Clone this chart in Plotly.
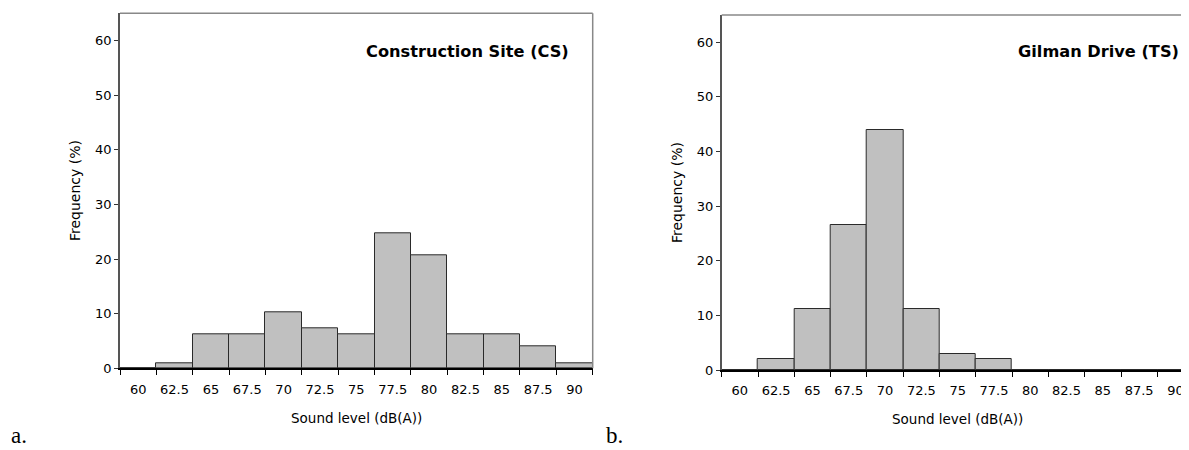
import plotly.graph_objects as go

categories = ["60", "62.5", "65", "67.5", "70", "72.5", "75", "77.5", "80", "82.5", "85", "87.5", "90"]
cs_values = [0, 1.0, 6.2, 6.2, 10.3, 7.3, 6.2, 24.7, 20.6, 6.2, 6.2, 4.1, 1.0]
ts_values = [0, 2.0, 11.2, 26.5, 43.9, 11.2, 3.0, 2.0, 0, 0, 0, 0, 0]
panel_titles = ["Construction Site (CS)", "Gilman Drive (TS)"]
x_title = "Sound level (dB(A))"
y_title = "Frequency (%)"
panel_letters = ["a.", "b."]

# page is 1189x450 but the HTML body has an 8px margin
OFF = 8
W, H = 1189 - OFF, 450 - OFF
FONT = "DejaVu Sans"

def px(x):
    return (x - OFF) / W

def py(y):
    return (H - (y - OFF)) / H

fig = go.Figure()
bar_style = dict(marker=dict(color="#c0c0c0", line=dict(color="#2a2a2a", width=1)),
                 width=1.0, showlegend=False, hoverinfo="skip")
fig.add_trace(go.Bar(x=categories, y=cs_values, xaxis="x", yaxis="y", **bar_style))
fig.add_trace(go.Bar(x=categories, y=ts_values, xaxis="x2", yaxis="y2", **bar_style))

# pixel geometry in page coordinates
L1, R1 = 120, 592.7
L2 = 721.7
cat_w2 = 36.3
R2 = 1189
top1, bot1 = 13.3, 368.3
top2, bot2 = 15.0, 370.0

xaxis_common = dict(type="category", showline=True, linecolor="black", linewidth=1.5,
                    ticks="outside", tickson="boundaries", ticklen=5, tickcolor="black",
                    tickwidth=1, showgrid=False, zeroline=False, tickangle=0,
                    automargin=False, ticklabelstandoff=8,
                    tickfont=dict(family=FONT, size=13, color="black"), fixedrange=True)
yaxis_common = dict(range=[0, 65], dtick=10, tick0=0, showline=True, linecolor="#555",
                    linewidth=1.5, ticks="outside", ticklen=4, tickcolor="#333",
                    showgrid=False, zeroline=False, automargin=False,
                    tickfont=dict(family=FONT, size=13, color="black"))

right_range = -0.5 + (R2 - L2) / cat_w2

fig.update_layout(
    width=W, height=H, margin=dict(l=0, r=0, t=0, b=0),
    paper_bgcolor="white", plot_bgcolor="white", bargap=0,
    xaxis=dict(domain=[px(L1), px(R1)], anchor="y", range=[-0.5, 12.5], **xaxis_common),
    yaxis=dict(domain=[py(bot1), py(top1)], anchor="x", **yaxis_common),
    xaxis2=dict(domain=[px(L2), 1.0], anchor="y2", range=[-0.5, right_range], **xaxis_common),
    yaxis2=dict(domain=[py(bot2), py(top2)], anchor="x2", **yaxis_common),
)

# borders (top and right)
shapes = [
    dict(type="line", xref="x domain", yref="y domain", x0=0, x1=1, y0=1, y1=1,
         line=dict(color="#888", width=1.5)),
    dict(type="line", xref="x domain", yref="y domain", x0=1, x1=1, y0=0, y1=1,
         line=dict(color="#888", width=1.5)),
    dict(type="line", xref="x2 domain", yref="y2 domain", x0=0, x1=1, y0=1, y1=1,
         line=dict(color="#888", width=1.5)),
]
fig.update_layout(shapes=shapes)

ann = []
# panel titles
for xr, yc, t in [(571, 52, panel_titles[0]), (1181, 52, panel_titles[1])]:
    ann.append(dict(text="<b>" + t + "</b>", xref="paper", yref="paper", x=px(xr), y=py(yc),
                    xanchor="right", yanchor="middle", showarrow=False,
                    font=dict(family=FONT, size=16.2, color="black")))
# axis titles
for cx, ycen in [((L1 + R1) / 2, 418), ((L2 + L2 + 13 * cat_w2) / 2, 419)]:
    ann.append(dict(text=x_title, xref="paper", yref="paper", x=px(cx), y=py(ycen),
                    xanchor="center", yanchor="middle", showarrow=False,
                    font=dict(family=FONT, size=13.5, color="black")))
for cx, ycen in [(75, 191), (677, 193)]:
    ann.append(dict(text=y_title, xref="paper", yref="paper", x=px(cx), y=py(ycen),
                    xanchor="center", yanchor="middle", showarrow=False, textangle=-90,
                    font=dict(family=FONT, size=14, color="black")))
# panel letters
for cx, lab in [(9, panel_letters[0]), (604, panel_letters[1])]:
    ann.append(dict(text=lab, xref="paper", yref="paper", x=px(cx), y=0,
                    xanchor="left", yanchor="bottom", showarrow=False,
                    font=dict(family="Liberation Serif", size=23, color="black")))
fig.update_layout(annotations=ann)

fig.write_html("out.html")
